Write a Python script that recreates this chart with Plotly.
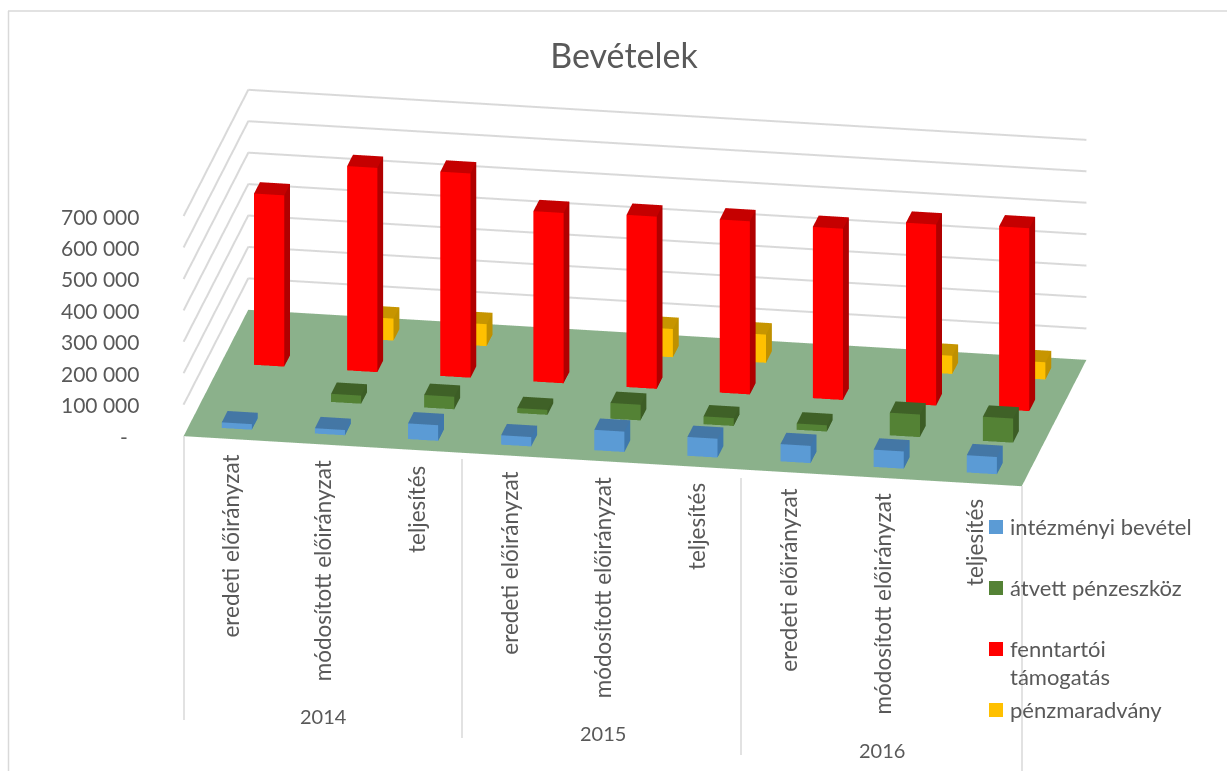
import math
import plotly.graph_objects as go

W, H = 1227, 771
title = "Bevételek"
years = ["2014", "2015", "2016"]
categories = ["eredeti előirányzat", "módosított előirányzat", "teljesítés"] * 3
series_names = ["intézményi bevétel", "átvett pénzeszköz", "fenntartói támogatás", "pénzmaradvány"]
intezmenyi = [18000, 17000, 50000, 30000, 65000, 60000, 55000, 55000, 55000]
atvett = [0, 26000, 40000, 16000, 50000, 25000, 20000, 72000, 77000]
fenntartoi = [545000, 650000, 650000, 542000, 548000, 551000, 545000, 576000, 582000]
penzmaradvany = [0, 70000, 70000, 0, 90000, 90000, 0, 58000, 55000]
z_ticks = [0, 100000, 200000, 300000, 400000, 500000, 600000, 700000]
z_labels = ["-", "100 000", "200 000", "300 000", "400 000", "500 000", "600 000", "700 000"]

front_cols = ["#5B9BD5", "#548235", "#FF0000", "#FFC000"]
top_cols = ["#4477A5", "#3F6127", "#C50000", "#C79500"]
side_cols = ["#3F78AC", "#3C5D25", "#B00000", "#BF9000"]
TXT = "#595959"
GRID = "#D9D9D9"
FONT = "Lato"
BAR_W, BAR_D = 0.324, 0.36
BAR_OFF = 0.016


def bars(values, row, name):
    xs, ys, zs, ii, jj, kk, fc = [], [], [], [], [], [], []
    for c, v in enumerate(values):
        if v <= 0:
            continue
        x0, x1 = c + .5 + BAR_OFF - BAR_W / 2, c + .5 + BAR_OFF + BAR_W / 2
        y0, y1 = row + .5 - BAR_D / 2, row + .5 + BAR_D / 2
        b = len(xs)
        for z in (0, v):
            for x, y in ((x0, y0), (x1, y0), (x1, y1), (x0, y1)):
                xs.append(x); ys.append(y); zs.append(z)
        faces = [((0, 1, 5), front_cols[row]), ((0, 5, 4), front_cols[row]),
                 ((4, 5, 6), top_cols[row]), ((4, 6, 7), top_cols[row]),
                 ((1, 2, 6), side_cols[row]), ((1, 6, 5), side_cols[row])]
        for (a, d, e), col in faces:
            ii.append(b + a); jj.append(b + d); kk.append(b + e); fc.append(col)
    return go.Mesh3d(x=xs, y=ys, z=zs, i=ii, j=jj, k=kk, facecolor=fc, name=name, flatshading=True,
                     lighting=dict(ambient=1, diffuse=0, specular=0, roughness=1, fresnel=0),
                     hoverinfo="skip", showscale=False)


fig = go.Figure()
for v in z_ticks[1:]:
    fig.add_trace(go.Scatter3d(x=[0, 0, 9], y=[0, 4, 4], z=[v, v, v], mode="lines",
                               line=dict(color=GRID, width=4), hoverinfo="skip", showlegend=False))
for r, (nm, vals) in enumerate(zip(series_names, [intezmenyi, atvett, fenntartoi, penzmaradvany])):
    fig.add_trace(bars(vals, r, nm))

ann3d = []
for v, t in zip(z_ticks, z_labels):
    ann3d.append(dict(x=0, y=0, z=v, text=t, showarrow=False, xanchor="right", yanchor="middle",
                      xshift=-43 if v else -54, yshift=0, font=dict(family=FONT, size=21, color=TXT)))
for c, t in enumerate(categories):
    ann3d.append(dict(x=c + .5, y=0, z=0, text=t, showarrow=False, textangle=-90, xanchor="center", yanchor="top",
                      xshift=0, yshift=-14, font=dict(family=FONT, size=22.5, color=TXT)))
for c, t in enumerate(years):
    ann3d.append(dict(x=3 * c + 1.5, y=0, z=0, text=t, showarrow=False, xanchor="center", yanchor="middle",
                      xshift=0, yshift=-272, font=dict(family=FONT, size=20, color=TXT)))


def px(x): return x / W
def py(y): return 1 - y / H


shapes = []
for (x, y0, y1) in [(184, 436, 720), (462, 459, 738), (741, 478, 755), (1022, 486, 771)]:
    shapes.append(dict(type="line", xref="paper", yref="paper", x0=px(x), x1=px(x), y0=py(y0), y1=py(y1),
                       line=dict(color=GRID, width=1.5)))
shapes.append(dict(type="line", xref="paper", yref="paper", x0=px(8.5), x1=px(8.5), y0=py(11), y1=py(771),
                   line=dict(color=GRID, width=1.5)))
shapes.append(dict(type="line", xref="paper", yref="paper", x0=px(8), x1=px(1227), y0=py(11), y1=py(11),
                   line=dict(color=GRID, width=1.5)))

annotations = []
legend_y = [527, 588, 649, 710]
for nm, col, y in zip(series_names, front_cols, legend_y):
    shapes.append(dict(type="rect", xref="paper", yref="paper", x0=px(989), x1=px(1003), y0=py(y - 7), y1=py(y + 7),
                       fillcolor=col, line=dict(width=0)))
    lines = ["fenntartói", "támogatás"] if nm == "fenntartói támogatás" else [nm]
    for n, ln in enumerate(lines):
        annotations.append(dict(xref="paper", yref="paper", x=px(1007.5), y=py(y - 0.5 + n * 28), text=ln, showarrow=False,
                                xanchor="left", yanchor="middle", font=dict(family=FONT, size=22, color=TXT)))

alpha = math.radians(9.92)
theta = math.radians(19.97)
D = 2.0
SCALE = 2.95
eye = dict(x=D * math.sin(alpha) * math.cos(theta), y=-D * math.cos(alpha) * math.cos(theta), z=D * math.sin(theta))

ax_off = dict(showgrid=False, showticklabels=False, showline=False, zeroline=False, showspikes=False,
              showbackground=False, title=dict(text=""), ticks="")
fig.update_layout(
    width=W, height=H, autosize=False, margin=dict(l=0, r=0, t=0, b=0), paper_bgcolor="white",
    showlegend=False,
    title=dict(text=title, x=624 / W, y=1 - 56 / H, xanchor="center", yanchor="middle", xref="paper", yref="paper",
               font=dict(family=FONT, size=34, color=TXT)),
    shapes=shapes, annotations=annotations,
    scene=dict(
        domain=dict(x=[43 / W, 1], y=[1 - 575 / H, 1 - 1 / H]),
        aspectmode="manual", aspectratio=dict(x=SCALE * 1.005, y=0.4435 * SCALE, z=0.2765 * SCALE),
        camera=dict(eye=eye, up=dict(x=0, y=0, z=1), center=dict(x=0, y=0, z=0),
                    projection=dict(type="orthographic")),
        xaxis=dict(range=[0, 9], autorange=False, **ax_off),
        yaxis=dict(range=[0, 4], autorange=False, **ax_off),
        zaxis=dict(range=[0, 700000], autorange=False, tickvals=z_ticks, showgrid=False,
                   showticklabels=False, showline=False, zeroline=False, showspikes=False, showbackground=True,
                   backgroundcolor="#8BB18B", title=dict(text=""), ticks=""),
        annotations=ann3d,
    ),
)
config = dict(displayModeBar=False)
fig.write_html("out.html", config=config, post_script="document.body.style.margin='0';")
